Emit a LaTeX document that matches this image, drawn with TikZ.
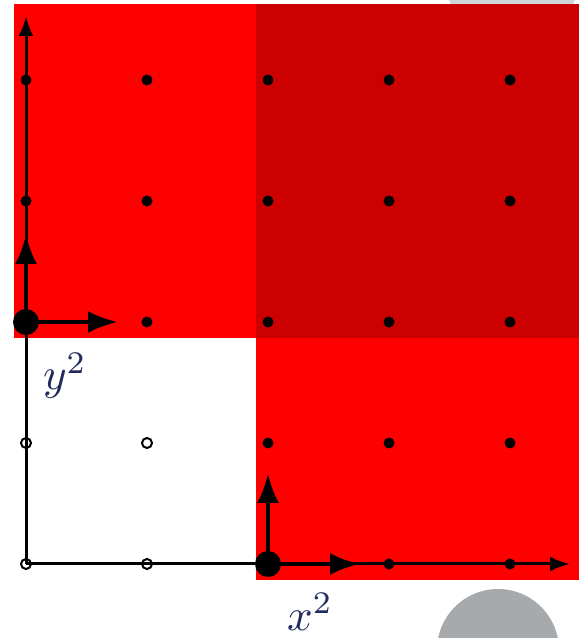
\documentclass[tikz,border=0pt]{standalone}
\usetikzlibrary{arrows.meta}
\definecolor{brightred}{RGB}{255,0,0}
\definecolor{darkred}{RGB}{204,0,0}
\definecolor{labelblue}{RGB}{32,42,92}
\definecolor{graylight}{RGB}{208,213,218}
\definecolor{graydark}{RGB}{166,170,173}
\begin{document}
\begin{tikzpicture}[x=1pt,y=1pt,
  fdot/.style={circle,fill=black,inner sep=0pt,minimum size=11pt},
  odot/.style={circle,draw=black,line width=2pt,inner sep=0pt,minimum size=10pt},
  bigdot/.style={circle,fill=black,inner sep=0pt,minimum size=26pt},
  axis/.style={line width=3pt,-{Latex[length=20pt,width=15pt]}},
  gen/.style={line width=4.5pt,-{Latex[length=30pt,width=22pt]}},
  lbl/.style={text=labelblue,scale=4.5,inner sep=0pt}]
\useasboundingbox (0,0) rectangle (579,638);
\clip (0,0) rectangle (579,638);
\fill[graylight] (512,658) circle (66);
\fill[graydark] (498,-12) circle (61);
\fill[brightred] (14,300) rectangle (256,634);
\fill[darkred] (256,300) rectangle (579,634);
\fill[brightred] (256,58) rectangle (579,300);
% axes
\coordinate (O) at (26,74);
\coordinate (ytip) at (26,622);
\coordinate (xtip) at (570,74);
\draw[axis] (O) -- (ytip);
\draw[axis] (O) -- (xtip);
% dots
\foreach \i/\x in {0/26,1/147,2/268,3/389,4/510}{
  \foreach \j/\y in {0/74,1/195,2/316,3/437,4/558}{
    \coordinate (p\i\j) at (\x,\y);
  }
}
\node[odot] (d00) at (p00) {};
\node[odot] (d10) at (p10) {};
\node[odot] (d01) at (p01) {};
\node[odot] (d11) at (p11) {};
\node[bigdot] (gx) at (p20) {};
\node[bigdot] (gy) at (p02) {};
\foreach \n in {30,40,21,31,41,12,22,32,42,03,13,23,33,43,04,14,24,34,44}{
  \node[fdot] (d\n) at (p\n) {};
}
% generator arrows
\coordinate (gyup) at (26,404);
\coordinate (gyright) at (118,316);
\coordinate (gxup) at (268,165);
\coordinate (gxright) at (360,74);
\draw[gen] (gy.center) -- (gyup);
\draw[gen] (gy.center) -- (gyright);
\draw[gen] (gx.center) -- (gxup);
\draw[gen] (gx.center) -- (gxright);
% labels
\node[lbl] (ly) at (65,262) {$y^2$};
\node[lbl] (lx) at (310,26) {$x^2$};
\end{tikzpicture}
\end{document}
